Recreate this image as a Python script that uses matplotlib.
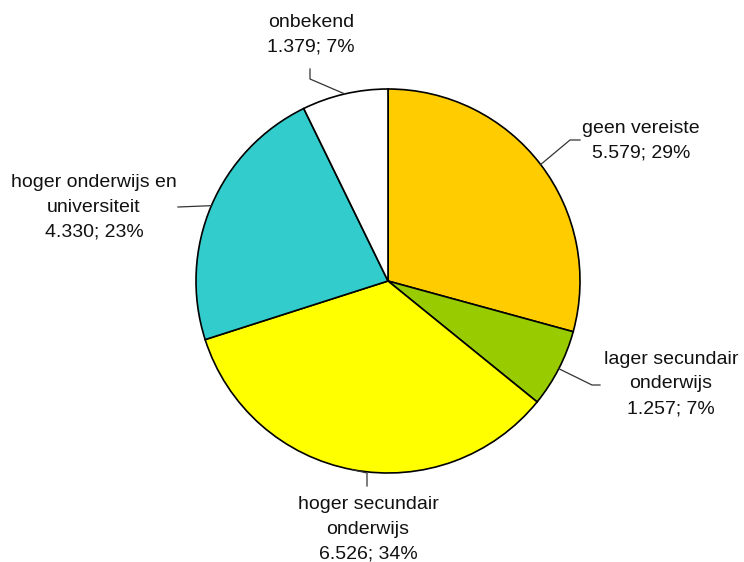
import matplotlib
matplotlib.use('Agg')
import matplotlib.pyplot as plt
import numpy as np

labels = ['geen vereiste', 'lager secundair\nonderwijs', 'hoger secundair\nonderwijs',
          'hoger onderwijs en\nuniversiteit', 'onbekend']
values = [5579, 1257, 6526, 4330, 1379]
colors = ['#FFCC00', '#99CC00', '#FFFF00', '#33CCCC', '#FFFFFF']

# pixel layout of the reference (figure 744x562, pie centre and radius)
W, H = 744, 562
cx, cy, R = 388, 281, 192

def px(x, y):
    return (x - cx) / R, (cy - y) / R

# leader-line elbows / ends and label centres, in pixels
elbows = [[(570, 140), (580, 140)],
          [(592, 385), (600, 385)],
          [(367, 473), (367, 486)],
          [(178, 207)],
          [(310, 79), (310, 69)]]
label_pos = [(641, 141), (671, 384), (368, 529), (94, 207), (311, 35)]

plt.rcParams['font.family'] = ['Liberation Sans', 'DejaVu Sans']

fig = plt.figure(figsize=(W / 100, H / 100), dpi=100)
ax = fig.add_axes([0, 0, 1, 1])
ax.axis('off')

wedges, _ = ax.pie(values, colors=colors, startangle=90, counterclock=False, radius=1,
                   wedgeprops=dict(edgecolor='black', linewidth=1.2))
ax.set_xlim(-cx / R, (W - cx) / R)
ax.set_ylim(-(H - cy) / R, cy / R)
ax.set_aspect('auto')

total = sum(values)
for w, lab, v, el, lp in zip(wedges, labels, values, elbows, label_pos):
    mid = np.deg2rad((w.theta1 + w.theta2) / 2)
    xs = [np.cos(mid)] + [px(*p)[0] for p in el]
    ys = [np.sin(mid)] + [px(*p)[1] for p in el]
    ax.plot(xs, ys, color='#333333', lw=0.9)
    pct = round(v / total * 100)
    txt = lab + '\n' + f'{v:,}'.replace(',', '.') + f'; {pct}%'
    tx, ty = px(*lp)
    ax.text(tx, ty, txt, ha='center', va='center', fontsize=14, linespacing=1.6,
            color='#111111')

fig.savefig('out.png', dpi=100)
